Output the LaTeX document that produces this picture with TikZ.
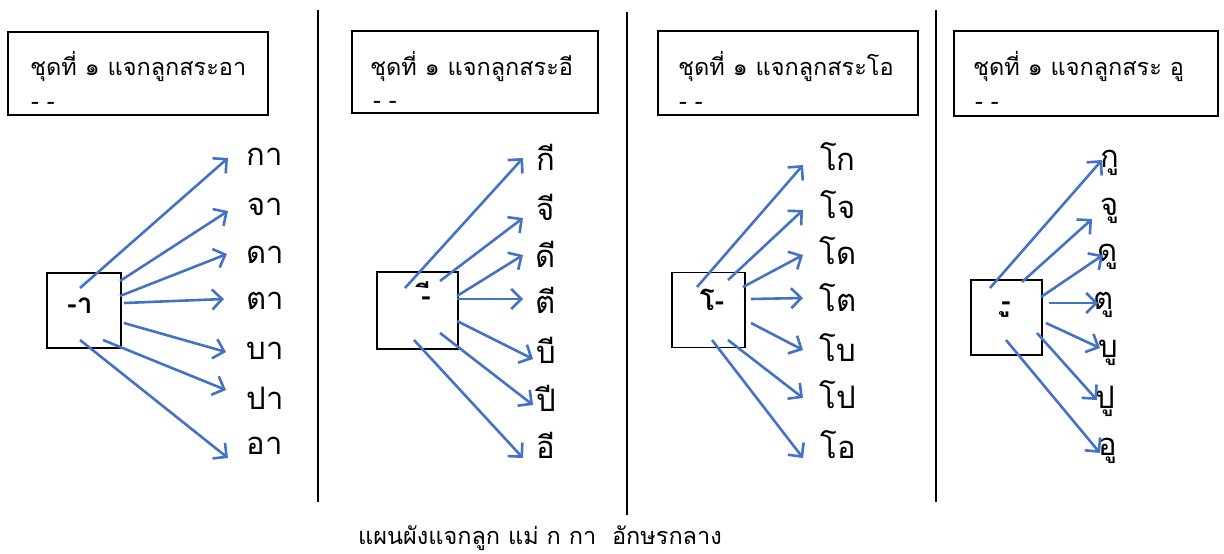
\documentclass[tikz,border=0pt]{standalone}
\usepackage{fontspec}
\setmainfont[Script=Thai]{Loma}
\usetikzlibrary{arrows.meta}
\definecolor{arrowblue}{RGB}{68,114,196}
\tikzset{
  hdr/.style={draw=black,line width=2.2pt,inner sep=0pt},
  vbox/.style={draw=black,line width=1.6pt,inner sep=0pt},
  vline/.style={draw=black,line width=2.2pt},
  arr/.style={draw=arrowblue,line width=2.6pt,-{Straight Barb[length=10pt,width=20pt,line width=2.6pt]}},
  lbl/.style={font=\fontsize{31}{34}\selectfont,inner sep=0pt},
  htxt/.style={font=\fontsize{23.5}{28}\selectfont,inner sep=0pt,anchor=west},
  btxt/.style={font=\bfseries\fontsize{28}{30}\selectfont,inner sep=0pt},
}
\begin{document}
\begin{tikzpicture}[x=1pt,y=-1pt]
\useasboundingbox (0,0) rectangle (1224,554);
% separators
\coordinate (s1t) at (318,10); \coordinate (s1b) at (318,502);
\coordinate (s2t) at (627,12); \coordinate (s2b) at (627,515);
\coordinate (s3t) at (936,10); \coordinate (s3b) at (936,502);
\draw[vline] (s1t) -- (s1b);
\draw[vline] (s2t) -- (s2b);
\draw[vline] (s3t) -- (s3b);
% header boxes
\draw[hdr] (8,32) rectangle (268,115);
\draw[hdr] (352,31) rectangle (598,113);
\draw[hdr] (658,31) rectangle (918,115);
\draw[hdr] (954,31) rectangle (1218,116);
\node[htxt] (h1) at (30,66) {ชุดที่ ๑ แจกลูกสระอา};
\node[htxt] (h2) at (370,66) {ชุดที่ ๑ แจกลูกสระอี};
\node[htxt] (h3) at (678,66) {ชุดที่ ๑ แจกลูกสระโอ};
\node[htxt] (h4) at (973,66) {ชุดที่ ๑ แจกลูกสระ อู};
\node[htxt] (d1) at (31,106) {- -};
\node[htxt] (d2) at (373,105) {- -};
\node[htxt] (d3) at (679,106) {- -};
\node[htxt] (d4) at (975,106) {- -};
% vowel boxes
\node[vbox,minimum width=74pt,minimum height=75pt] (b1) at (84,310.5) {};
\node[vbox,minimum width=81pt,minimum height=77pt] (b2) at (417.5,310.5) {};
\node[vbox,minimum width=73pt,minimum height=75pt] (b3) at (708.5,310) {};
\node[vbox,minimum width=71pt,minimum height=75pt] (b4) at (1006.5,317.5) {};
\node[btxt] (v1) at (80,306) {-า};
\node[btxt] (v2) at (426,294) {-ี};
\node[btxt] (v3) at (712,300) {โ-};
\node[btxt] (v4) at (1006,310) {-ู};
% panel 1
\foreach \n/\y/\t in {1/157/กา,2/207/จา,3/255/ดา,4/301/ตา,5/351/บา,6/398/ปา,7/446/อา}{
  \node[lbl] (p1l\n) at (265,\y) {\t};
}
\foreach \n/\sx/\sy/\ex/\ey in {1/80/288/228/158,2/120/281/228/211,3/120/296/227/254,4/124/303/224/299,5/124/323/226/352,6/103/340/226/390,7/80/340/228/458}{
  \coordinate (p1s\n) at (\sx,\sy); \coordinate (p1e\n) at (\ex,\ey);
  \draw[arr] (p1s\n) -- (p1e\n);
}
% panel 2
\foreach \n/\y/\t in {1/157/กี,2/207/จี,3/254/ดี,4/300/ตี,5/350/บี,6/398/ปี,7/445/อี}{
  \node[lbl] (p2l\n) at (546,\y) {\t};
}
\foreach \n/\sx/\sy/\ex/\ey in {1/405/288/523/158,2/440/281/523/218,3/457/296/523/255,4/457/299/523/299,5/457/321/533/359,6/440/333/533/405,7/414/340/523/458}{
  \coordinate (p2s\n) at (\sx,\sy); \coordinate (p2e\n) at (\ex,\ey);
  \draw[arr] (p2s\n) -- (p2e\n);
}
% panel 3
\foreach \n/\y/\t in {1/157/โก,2/205/โจ,3/251/โด,4/298/โต,5/348/โบ,6/395/โป,7/445/โอ}{
  \node[lbl] (p3l\n) at (838,\y) {\t};
}
\foreach \n/\sx/\sy/\ex/\ey in {1/697/287/803/165,2/728/280/803/210,3/743/287/803/255,4/751/299/803/298,5/751/323/803/350,6/728/340/803/398,7/712/340/803/458}{
  \coordinate (p3s\n) at (\sx,\sy); \coordinate (p3e\n) at (\ex,\ey);
  \draw[arr] (p3s\n) -- (p3e\n);
}
% panel 4
\foreach \n/\x/\y/\t in {1/1110/163/กู,2/1110/211/จู,3/1108/257/ดู,4/1104/305/ตู,5/1108/353/บู,6/1105/401/ปู,7/1108/451/อู}{
  \node[lbl] (p4l\n) at (\x,\y) {\t};
}
\foreach \n/\sx/\sy/\ex/\ey in {1/990/288/1102/160,2/1022/282/1092/219,3/1041/297/1103/255,4/1049/303/1098/303,5/1046/323/1100/348,6/1037/333/1097/400,7/1006/340/1100/453}{
  \coordinate (p4s\n) at (\sx,\sy); \coordinate (p4e\n) at (\ex,\ey);
  \draw[arr] (p4s\n) -- (p4e\n);
}
% caption
\node[font=\fontsize{23.5}{28}\selectfont,inner sep=0pt] (cap) at (540,538) {แผนผังแจกลูก แม่ ก กา \ อักษรกลาง};
\end{tikzpicture}
\end{document}
